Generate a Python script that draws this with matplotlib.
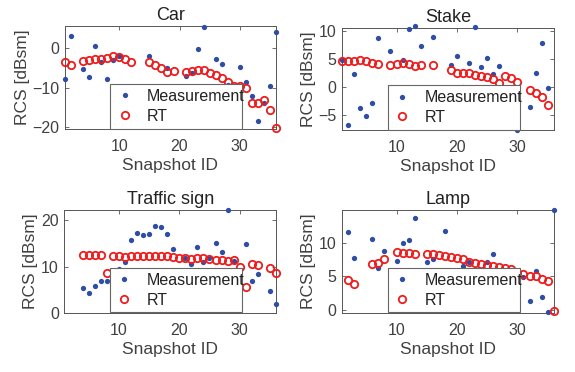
import matplotlib
matplotlib.use("Agg")
import matplotlib.pyplot as plt
import numpy as np

plt.rcParams['font.family'] = ['Liberation Sans', 'DejaVu Sans']

# Car
car_meas_x = [1, 2, 4, 5, 6, 7, 8, 9, 10, 15, 17, 18, 21, 22, 23, 24, 26, 27, 28, 30, 31, 32, 33, 34, 35, 36]
car_meas_y = [-7.9, 2.8, -5.3, -7.3, 0.5, -3.5, -7.8, -3.2, -2.0, -2.1, -9.8, -5.0, -7.1, -6.3, -0.4, 5.2,
              -2.9, -4.2, -9.4, -4.75, -8.5, -12.1, -18.5, -13.8, -9.5, 4.0]
car_rt_x = [1, 2, 4, 5, 6, 7, 8, 9, 10, 11, 12, 15, 16, 17, 18, 19, 21, 22, 23, 24, 25, 26, 27, 28, 29, 30,
            31, 32, 33, 34, 35, 36]
car_rt_y = [-3.7, -4.3, -3.4, -3.1, -2.8, -2.8, -2.6, -2.2, -2.4, -2.8, -3.5, -3.5, -4.4, -5.2, -6.0, -5.8,
            -6.0, -5.8, -5.6, -5.6, -6.4, -6.8, -7.6, -8.7, -9.5, -9.5, -10.2, -13.9, -13.9, -13.1, -15.6, -20.2]

# Stake
stake_meas_x = [1, 2, 3, 4, 5, 6, 7, 9, 11, 12, 13, 14, 16, 19, 20, 21, 22, 23, 24, 25, 26, 27, 30, 32, 33, 34, 35]
stake_meas_y = [4.8, -6.8, 2.3, -3.7, -5.2, -2.8, 8.8, 6.5, 4.9, 10.4, 10.9, 7.4, 8.9, 3.9, 5.6, 0.1, 4.3,
                10.7, 3.6, 5.3, 2.3, 3.8, -7.7, -3.6, 2.6, 7.9, -0.1]
stake_rt_x = [1, 2, 3, 4, 5, 6, 7, 9, 10, 11, 12, 13, 14, 16, 19, 20, 21, 22, 23, 24, 25, 26, 27, 28, 29, 30,
              32, 33, 34, 35]
stake_rt_y = [4.6, 4.7, 4.6, 4.8, 4.7, 4.4, 4.2, 4.0, 4.1, 4.3, 4.1, 3.8, 3.9, 4.0, 3.1, 2.6, 2.6, 2.6, 2.2,
              2.0, 1.9, 1.5, 0.8, 2.0, 1.7, 1.0, -0.5, -1.0, -1.7, -3.2]

# Traffic sign
sign_meas_x = [4, 5, 6, 7, 8, 10, 11, 12, 13, 14, 15, 16, 17, 18, 19, 21, 22, 23, 24, 25, 26, 27, 28, 29,
               31, 32, 33, 35, 36]
sign_meas_y = [5.3, 4.2, 5.8, 6.9, 6.9, 9.4, 11.1, 15.7, 17.2, 16.8, 17.1, 18.8, 18.6, 17.1, 13.9, 11.8,
               10.6, 14.2, 10.9, 11.9, 15.2, 13.2, 22.2, 11.3, 14.9, 7.0, 8.3, 4.8, 1.95]
sign_rt_x = [4, 5, 6, 7, 8, 9, 10, 11, 12, 13, 14, 15, 16, 17, 18, 19, 20, 21, 22, 23, 24, 25, 26, 27, 28,
             29, 30, 31, 32, 33, 35, 36]
sign_rt_y = [12.5, 12.5, 12.5, 12.6, 8.6, 12.2, 12.2, 12.1, 12.3, 12.3, 12.4, 12.35, 12.35, 12.2, 12.2,
             12.05, 11.85, 11.8, 11.6, 11.9, 11.9, 11.7, 11.5, 11.5, 11.3, 11.5, 9.9, 5.6, 10.6, 10.3, 9.75, 8.7]

# Lamp
lamp_meas_x = [2, 3, 6, 7, 8, 10, 11, 12, 13, 15, 16, 18, 21, 22, 25, 26, 31, 32, 33, 34, 35, 36]
lamp_meas_y = [11.65, 7.7, 10.6, 6.3, 8.8, 7.35, 9.95, 10.45, 13.7, 7.1, 7.65, 11.85, 6.6, 7.1, 7.15, 8.35,
               4.9, 1.25, 5.75, 1.95, -0.4, 14.9]
lamp_rt_x = [2, 3, 6, 7, 8, 10, 11, 12, 13, 15, 16, 17, 18, 19, 20, 21, 22, 23, 24, 25, 26, 27, 28, 29, 30,
             31, 32, 33, 34, 35, 36]
lamp_rt_y = [4.4, 3.9, 6.9, 6.95, 7.65, 8.7, 8.45, 8.45, 8.35, 8.35, 8.3, 8.15, 8.0, 7.85, 7.8, 7.6, 7.1,
             6.95, 6.9, 6.7, 6.6, 6.45, 6.3, 6.05, 5.5, 5.35, 5.1, 5.0, 4.6, 4.25, -0.2]

titles = ["Car", "Stake", "Traffic sign", "Lamp"]
meas = [(car_meas_x, car_meas_y), (stake_meas_x, stake_meas_y), (sign_meas_x, sign_meas_y), (lamp_meas_x, lamp_meas_y)]
rt = [(car_rt_x, car_rt_y), (stake_rt_x, stake_rt_y), (sign_rt_x, sign_rt_y), (lamp_rt_x, lamp_rt_y)]
ylims = [(-20.4, 5.4), (-7.7, 10.6), (0, 22.3), (-0.5, 15.0)]
yticks = [[-20, -10, 0], [-5, 0, 5, 10], [0, 10, 20], [0, 5, 10]]

# axes rectangles in figure fractions
rects = [[0.113, 0.653, 0.367, 0.277], [0.595, 0.650, 0.368, 0.275],
         [0.112, 0.159, 0.368, 0.277], [0.595, 0.159, 0.368, 0.277]]

txt = '#404040'
fig = plt.figure(figsize=(5.75, 3.72), dpi=100)
for i in range(4):
    ax = fig.add_axes(rects[i])
    ax.plot(meas[i][0], meas[i][1], 'o', color='#2f4ea3', markersize=3.8, markeredgewidth=0,
            label='Measurement', clip_on=False, zorder=3)
    ax.plot(rt[i][0], rt[i][1], 'o', mfc='none', mec='#ee1c1c', markersize=5.3, markeredgewidth=1.3,
            label='RT', clip_on=False, zorder=3)
    ax.set_xlim(1, 36)
    ax.set_ylim(*ylims[i])
    ax.set_xticks([10, 20, 30])
    ax.set_yticks(yticks[i])
    ax.tick_params(direction='in', top=True, right=True, length=3, width=0.6, colors='#555555',
                   labelcolor=txt, labelsize=11.5)
    ax.tick_params(axis='x', pad=7)
    ax.tick_params(axis='y', pad=4)
    for s in ax.spines.values():
        s.set_color('#555555')
        s.set_linewidth(0.7)
    ax.set_title(titles[i], fontsize=13, color='#222222', pad=4)
    ax.set_xlabel('Snapshot ID', fontsize=12.5, color=txt, labelpad=3)
    ax.set_ylabel('RCS [dBsm]', fontsize=12.5, color=txt, labelpad=2)
    leg = ax.legend(loc='lower left', bbox_to_anchor=(0.215, 0.005, 0.625, 0.41), mode='expand',
                    borderaxespad=0, fancybox=False, framealpha=1, edgecolor='#666666',
                    fontsize=11.5, handlelength=1.2, handletextpad=0.8, labelspacing=0.3,
                    borderpad=0.3)
    leg.get_frame().set_linewidth(0.8)
    leg.set_zorder(5)
    for t in leg.get_texts():
        t.set_color('#222222')

fig.savefig('out.png', dpi=100)
